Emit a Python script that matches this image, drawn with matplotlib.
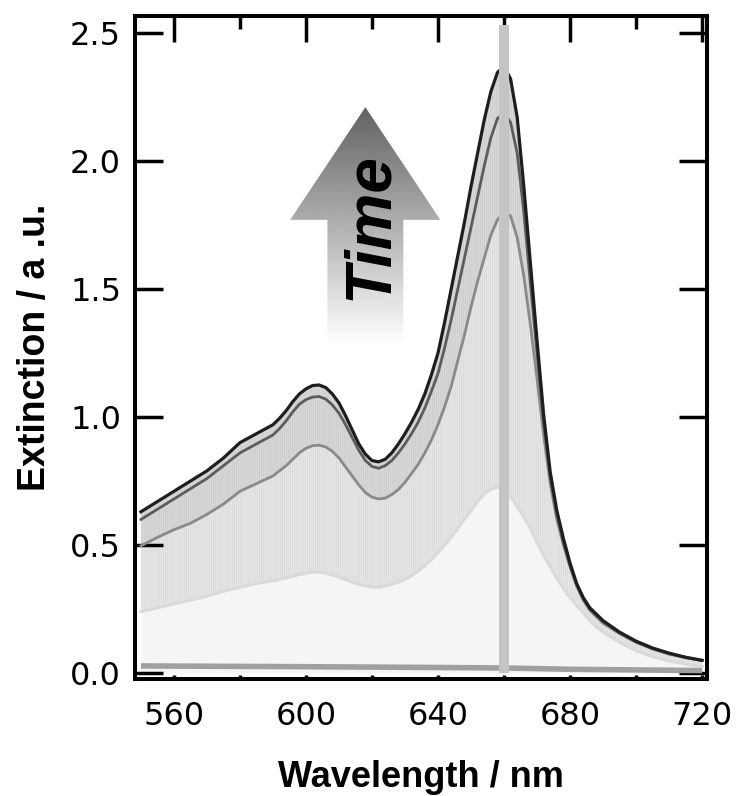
import numpy as np
import matplotlib
matplotlib.use("Agg")
import matplotlib.pyplot as plt
from matplotlib.patches import Polygon
from matplotlib.ticker import MultipleLocator

# wavelength grid (nm): coarse at the ends, 2 nm steps over the bands
wl = ([550, 555, 560, 565, 570, 575, 580, 585]
      + list(range(590, 691, 2))
      + [695, 700, 705, 710, 715, 720])

# spectra, from the last one (top, black) back to an early one (light)
ext_final = ([0.63, 0.67, 0.71, 0.75, 0.79, 0.84, 0.90, 0.935]
             + [0.97, 0.995, 1.025, 1.06, 1.09, 1.11, 1.123, 1.125, 1.115, 1.09,
                1.055, 1.005, 0.95, 0.895, 0.855, 0.83, 0.825, 0.835, 0.86, 0.895,
                0.935, 0.98, 1.03, 1.09, 1.165, 1.25]
             + [1.37, 1.50, 1.63, 1.76, 1.90, 2.03, 2.16, 2.27, 2.345, 2.37,
                2.32, 2.17, 1.90, 1.60, 1.30, 1.01, 0.785, 0.635, 0.525, 0.43,
                0.35, 0.295, 0.255, 0.23, 0.205]
             + [0.16, 0.125, 0.098, 0.078, 0.062, 0.05])
ext_late = ([0.60, 0.64, 0.68, 0.72, 0.76, 0.81, 0.86, 0.895]
            + [0.93, 0.955, 0.985, 1.02, 1.05, 1.068, 1.078, 1.08, 1.07, 1.047,
               1.015, 0.97, 0.92, 0.87, 0.83, 0.807, 0.80, 0.81, 0.83, 0.86,
               0.895, 0.935, 0.98, 1.035, 1.10, 1.17]
            + [1.27, 1.38, 1.50, 1.62, 1.74, 1.86, 1.98, 2.09, 2.165, 2.19,
               2.15, 2.03, 1.80, 1.52, 1.25, 0.98, 0.765, 0.62, 0.51, 0.42,
               0.345, 0.29, 0.25, 0.225, 0.2]
            + [0.157, 0.122, 0.096, 0.076, 0.061, 0.05])
ext_mid = ([0.497, 0.53, 0.56, 0.585, 0.62, 0.66, 0.71, 0.74]
           + [0.77, 0.79, 0.81, 0.835, 0.86, 0.878, 0.888, 0.89, 0.883, 0.866,
              0.84, 0.805, 0.77, 0.735, 0.705, 0.687, 0.68, 0.683, 0.697, 0.717,
              0.745, 0.78, 0.815, 0.86, 0.91, 0.97]
           + [1.04, 1.12, 1.22, 1.32, 1.43, 1.53, 1.62, 1.71, 1.77, 1.80,
              1.785, 1.70, 1.55, 1.36, 1.15, 0.93, 0.74, 0.60, 0.50, 0.415,
              0.34, 0.285, 0.245, 0.22, 0.195]
           + [0.154, 0.12, 0.094, 0.074, 0.06, 0.049])
ext_early = ([0.24, 0.255, 0.27, 0.285, 0.30, 0.32, 0.335, 0.35]
             + [0.36, 0.366, 0.372, 0.378, 0.385, 0.39, 0.394, 0.395, 0.39, 0.383,
                0.375, 0.365, 0.355, 0.347, 0.34, 0.336, 0.335, 0.34, 0.347, 0.355,
                0.366, 0.38, 0.398, 0.42, 0.443, 0.47]
             + [0.50, 0.53, 0.565, 0.60, 0.635, 0.67, 0.70, 0.717, 0.725, 0.72,
                0.69, 0.65, 0.61, 0.565, 0.51, 0.46, 0.415, 0.37, 0.33, 0.295,
                0.265, 0.235, 0.205, 0.18, 0.16]
             + [0.12, 0.088, 0.064, 0.047, 0.035, 0.025])
base_wl = [550, 600, 640, 660, 680, 720]
ext_start = [0.028, 0.025, 0.022, 0.02, 0.015, 0.01]

peak_wl = 660
peak_top = 2.53

plt.rcParams['hatch.linewidth'] = 0.35

fig = plt.figure(figsize=(7.39, 7.96), dpi=100)
ax = fig.add_axes([135/739, 1-679/796, 572/739, 663/796])

x = np.array(wl)
ax.fill_between(x, 0, ext_early, color='#f5f5f5', lw=0, zorder=1)
ax.fill_between(x, ext_early, ext_mid, facecolor='#e6e6e6', edgecolor='#d2d2d2',
                hatch='|' * 8, lw=0, zorder=1)
ax.fill_between(x, ext_mid, ext_final, facecolor='#d8d8d8', edgecolor='#c4c4c4',
                hatch='|' * 8, lw=0, zorder=1)

ax.plot(base_wl, ext_start, color='#a0a0a0', lw=4, zorder=2, solid_capstyle='butt')
ax.plot(wl, ext_early, color='#dadada', lw=2.2, zorder=2)
ax.plot(wl, ext_mid, color='#8a8a8a', lw=2, zorder=2)
ax.plot(wl, ext_late, color='#5c5c5c', lw=2, zorder=2)
ax.plot(wl, ext_final, color='#1e1e1e', lw=2.3, zorder=2)

ax.bar([peak_wl], [peak_top], width=3, color='#c4c4c4', zorder=3)

# gradient "Time" arrow
arrow = Polygon([(618, 2.21), (595.2, 1.77), (606.5, 1.77), (606.5, 1.28),
                 (629.5, 1.28), (629.5, 1.77), (640.7, 1.77)],
                closed=True, fc='none', ec='none', transform=ax.transData)
ax.add_patch(arrow)
grad = np.linspace(1.0, 0.38, 256).reshape(-1, 1)
im = ax.imshow(grad, cmap='gray', vmin=0, vmax=1, origin='lower', aspect='auto',
               extent=[595, 641, 1.28, 2.21], zorder=4)
im.set_clip_path(arrow)
ax.text(619.5, 1.745, 'Time', rotation=90, ha='center', va='center',
        fontsize=46, fontweight='bold', fontstyle='italic',
        family='Liberation Sans', zorder=5)

ax.set_xlim(548.2, 721.5)
ax.set_ylim(-0.023, 2.566)

for s in ax.spines.values():
    s.set_linewidth(2.9)

ax.xaxis.set_major_locator(MultipleLocator(40))
ax.xaxis.set_minor_locator(MultipleLocator(20))
ax.set_yticks([0, 0.5, 1.0, 1.5, 2.0, 2.5])
ax.set_yticklabels(['0.0', '0.5', '1.0', '1.5', '2.0', '2.5'])
ax.tick_params(axis='x', which='both', direction='in', length=3, width=2.5,
               labelsize=23, pad=16)
ax.tick_params(axis='y', which='major', direction='in', length=20, width=2.5,
               right=True, labelsize=23, pad=10)

top = ax.secondary_xaxis('top')
top.xaxis.set_major_locator(MultipleLocator(40))
top.xaxis.set_minor_locator(MultipleLocator(20))
top.tick_params(which='major', direction='in', length=19, width=2.5, labeltop=False)
top.tick_params(which='minor', direction='in', length=9.5, width=2.5)
top.spines['top'].set_linewidth(2.9)

ax.set_xlabel('Wavelength / nm', fontsize=26, fontweight='bold',
              family='Liberation Sans', labelpad=20)
ax.set_ylabel('Extinction / a .u.', fontsize=27, fontweight='bold',
              family='Liberation Sans', labelpad=12)

fig.savefig('out.png', dpi=100)
